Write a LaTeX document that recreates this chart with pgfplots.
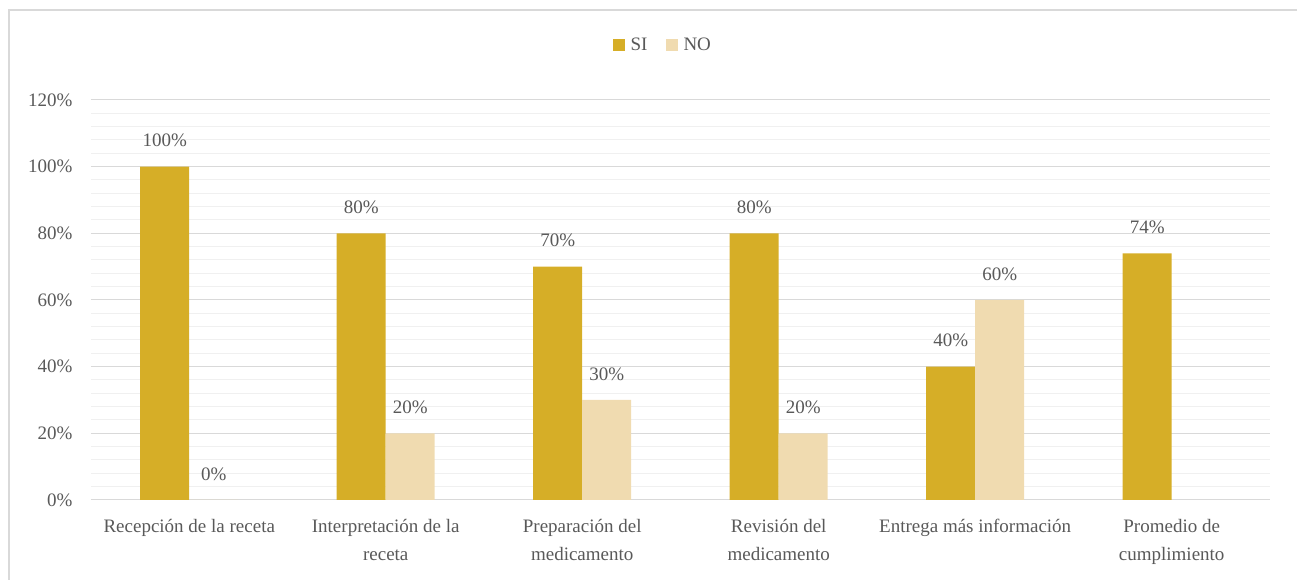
\documentclass[border=0pt]{standalone}
\usepackage{pgfplots}
\pgfplotsset{compat=1.18}
\usepackage{fontspec}
\setmainfont{Liberation Serif}
\definecolor{siC}{HTML}{D6AE27}
\definecolor{noC}{HTML}{F0DBB0}
\definecolor{txt}{HTML}{595959}
\definecolor{majg}{HTML}{D9D9D9}
\definecolor{ming}{HTML}{F0F0F0}
\begin{document}
\begin{tikzpicture}[x=1pt,y=1pt]
\useasboundingbox (-91,-80) rectangle (1206,500);
\draw[majg, line width=1.2pt] (-82,-95) rectangle (1220,490);
\begin{axis}[
  at={(0,0)}, anchor=south west,
  scale only axis, width=1179pt, height=400pt,
  ybar=0pt, bar width=49pt,
  xmin=-0.5, xmax=5.5, ymin=0, ymax=120,
  xtick={0,1,2,3,4,5},
  xticklabels={{Recepción de la receta},{Interpretación de la\\receta},{Preparación del\\medicamento},{Revisión del\\medicamento},{Entrega más información},{Promedio de\\cumplimiento}},
  ytick={0,20,40,60,80,100,120},
  minor y tick num=4,
  /pgf/number format/assume math mode=true,
  yticklabel={\pgfmathprintnumber{\tick}\%},
  major tick length=0pt, minor tick length=0pt,
  ymajorgrids, yminorgrids,
  major grid style={majg, line width=1pt},
  minor grid style={ming, line width=1pt},
  axis line style={draw=none},
  tick label style={font=\fontsize{19}{28}\selectfont, text=txt},
  xticklabel style={align=center, yshift=-16pt, anchor=north},
  yticklabel style={xshift=-15pt},
  nodes near coords={\pgfmathprintnumber[assume math mode=true]{\pgfplotspointmeta}\%},
  nodes near coords style={font=\fontsize{19}{22}\selectfont, text=txt, anchor=south, yshift=16pt},
  legend style={at={(0.485,1.1375)}, anchor=center, draw=none, fill=none,
    legend columns=2, font=\fontsize{19}{22}\selectfont, text=txt,
    /tikz/every odd column/.append style={column sep=4pt},
    /tikz/every even column/.append style={column sep=16pt}},
  legend image code/.code={\fill[#1] (0,-6pt) rectangle (12pt,6pt);},
]
\addplot[fill=siC, draw=none] coordinates {(0,100) (1,80) (2,70) (3,80) (4,40) (5,74)};
\addplot[fill=noC, draw=none] coordinates {(0,0) (1,20) (2,30) (3,20) (4,60)};
\legend{SI,NO}
\end{axis}
\end{tikzpicture}
\end{document}
